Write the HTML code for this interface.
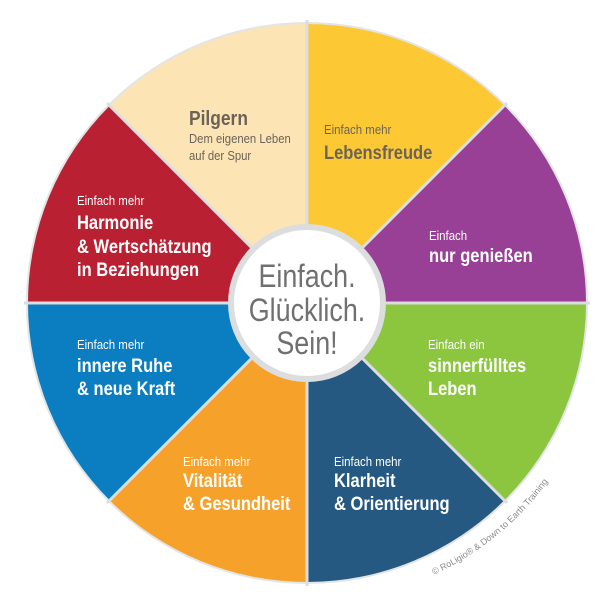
<!DOCTYPE html>
<html><head><meta charset="utf-8"><style>
html,body{margin:0;padding:0;background:#fff;}
svg{display:block;}
text{font-family:"Liberation Sans Narrow","Liberation Sans",sans-serif;}
.s{font-size:13px;fill:#fff;}
.b{font-size:19px;font-weight:bold;fill:#fff;}
</style></head><body>
<svg width="613" height="603" viewBox="0 0 613 603" xmlns="http://www.w3.org/2000/svg">
<circle cx="307" cy="303" r="281" fill="#e3e4e5"/>
<path d="M307 303 L307 24 A279 279 0 0 1 504.3 105.7 Z" fill="#fcc934"/>
<path d="M307 303 L504.3 105.7 A279 279 0 0 1 586 303 Z" fill="#983f96"/>
<path d="M307 303 L586 303 A279 279 0 0 1 504.3 500.3 Z" fill="#8cc63f"/>
<path d="M307 303 L504.3 500.3 A279 279 0 0 1 307 582 Z" fill="#255982"/>
<path d="M307 303 L307 582 A279 279 0 0 1 109.7 500.3 Z" fill="#f6a12a"/>
<path d="M307 303 L109.7 500.3 A279 279 0 0 1 28 303 Z" fill="#0b7dc1"/>
<path d="M307 303 L28 303 A279 279 0 0 1 109.7 105.7 Z" fill="#b92132"/>
<path d="M307 303 L109.7 105.7 A279 279 0 0 1 307 24 Z" fill="#fde4b4"/>
<g stroke="#dcdddf" stroke-width="3">
<line x1="307" y1="20" x2="307" y2="586"/>
<line x1="24" y1="303" x2="590" y2="303"/>
<line x1="107" y1="103" x2="507" y2="503"/>
<line x1="507" y1="103" x2="107" y2="503"/>
</g>
<circle cx="307" cy="303" r="76" fill="#fff" stroke="#dcdddf" stroke-width="6"/>
<g font-size="32" fill="#707070" text-anchor="middle">
<text transform="translate(307,287) scale(0.84,1)">Einfach.</text>
<text transform="translate(307,321) scale(0.84,1)">Glücklich.</text>
<text transform="translate(307,354) scale(0.84,1)">Sein!</text>
</g>
<text transform="translate(189,125) scale(0.87,1)" font-size="20" font-weight="bold" fill="#6b635a">Pilgern</text>
<text transform="translate(189,143) scale(0.87,1)" font-size="13" fill="#6b635a">Dem eigenen Leben</text>
<text transform="translate(189,160) scale(0.87,1)" font-size="13" fill="#6b635a">auf der Spur</text>
<text transform="translate(324,134) scale(0.88,1)" font-size="13" fill="#6b635a">Einfach mehr</text>
<text transform="translate(324,159) scale(0.87,1)" font-size="19" font-weight="bold" fill="#6b635a">Lebensfreude</text>
<text class="s" transform="translate(429,240) scale(0.88,1)">Einfach</text>
<text class="b" transform="translate(429,262) scale(0.87,1)">nur genießen</text>
<text class="s" transform="translate(428,349) scale(0.88,1)">Einfach ein</text>
<text class="b" transform="translate(428,372) scale(0.87,1)">sinnerfülltes</text>
<text class="b" transform="translate(428,395) scale(0.87,1)">Leben</text>
<text class="s" transform="translate(334,466) scale(0.88,1)">Einfach mehr</text>
<text class="b" transform="translate(334,487) scale(0.87,1)">Klarheit</text>
<text class="b" transform="translate(334,510) scale(0.87,1)">&amp; Orientierung</text>
<text class="s" transform="translate(183,466) scale(0.88,1)">Einfach mehr</text>
<text class="b" transform="translate(183,487) scale(0.87,1)">Vitalität</text>
<text class="b" transform="translate(183,510) scale(0.87,1)">&amp; Gesundheit</text>
<text class="s" transform="translate(77,349) scale(0.88,1)">Einfach mehr</text>
<text class="b" transform="translate(77,372) scale(0.87,1)">innere Ruhe</text>
<text class="b" transform="translate(77,395) scale(0.87,1)">&amp; neue Kraft</text>
<text class="s" transform="translate(77,205) scale(0.88,1)">Einfach mehr</text>
<text class="b" transform="translate(77,229) scale(0.87,1)">Harmonie</text>
<text class="b" transform="translate(77,253) scale(0.87,1)">&amp; Wertschätzung</text>
<text class="b" transform="translate(77,276) scale(0.87,1)">in Beziehungen</text>
<defs><path id="arc" d="M433.8 574.9 A300 300 0 0 0 566.8 453" fill="none"/></defs>
<text font-size="9" fill="#8a8a8a" font-family="Liberation Sans, sans-serif"><textPath href="#arc">© RoLigio® &amp; Down to Earth Training</textPath></text>
</svg>
</body></html>
